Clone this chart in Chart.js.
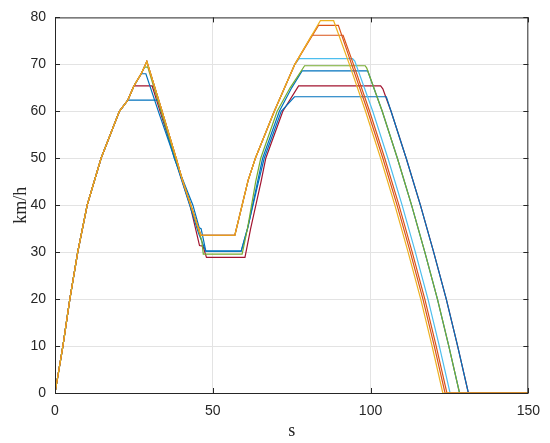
<!DOCTYPE html>
<html>
<head>
<meta charset="utf-8">
<style>
body { margin: 0; background: #fff; }
#wrap { width: 550px; height: 443px; }
</style>
<script src="https://cdn.jsdelivr.net/npm/chart.js@4.4.1/dist/chart.umd.min.js"></script>
<script type="text/javascript">
// distance (s) and speed (km/h), one pair of arrays per run
var blue1S = [0, 2.5, 4.7, 7.2, 10.2, 14.6, 20.4, 23.1, 32.6, 34.5, 37.8, 43.7, 45.7, 46.3, 47.8, 59.0, 61.0, 64.5, 66.3, 71.7, 75.9, 105.0, 106.5, 111.3, 115.8, 120.0, 124.0, 127.6, 131.0, 150];
var blue1V = [0, 10, 20, 30, 40, 50, 60, 62.4, 62.4, 58, 50, 40, 35.2, 35, 30.2, 30.2, 35, 45, 50, 60, 63.1, 63.1, 60, 50, 40, 30, 20, 10, 0, 0];

var redS = [0, 2.5, 4.7, 7.2, 10.2, 14.6, 20.4, 23.1, 25.0, 30.8, 34.0, 38.0, 42.8, 45.8, 46.9, 48.0, 60.2, 62.0, 65.3, 66.8, 72.2, 77.2, 103.2, 103.9, 104.8, 106.5, 111.3, 115.8, 120.0, 124.0, 127.6, 131.0, 150];
var redV = [0, 10, 20, 30, 40, 50, 60, 62.4, 65.4, 65.4, 58.5, 50, 40, 31.4, 31.3, 28.9, 28.9, 35, 45, 50, 60, 65.4, 65.4, 64.8, 63.1, 60, 50, 40, 30, 20, 10, 0, 0];

var blue2S = [0, 2.5, 4.7, 7.2, 10.2, 14.6, 20.4, 23.1, 25.0, 27.4, 28.8, 33.0, 37.9, 42.7, 45.5, 47.8, 59.0, 61.2, 64.2, 65.8, 71.1, 75.0, 78.3, 99.1, 103.7, 108.5, 113.0, 117.2, 121.2, 124.8, 128.2, 150];
var blue2V = [0, 10, 20, 30, 40, 50, 60, 62.4, 65.4, 68.0, 68.0, 59.5, 50, 40, 34, 30.2, 30.2, 35.5, 45, 50, 60, 65, 68.6, 68.6, 60, 50, 40, 30, 20, 10, 0, 0];

var greenS = [0, 2.5, 4.7, 7.2, 10.2, 14.6, 20.4, 23.1, 25.0, 27.4, 28.4, 29.4, 33.4, 38.2, 43.0, 46.5, 47.0, 59.3, 61.0, 63.6, 65.2, 70.4, 74.5, 79.1, 98.3, 98.8, 103.7, 108.5, 113.0, 117.2, 121.2, 124.8, 128.2, 150];
var greenV = [0, 10, 20, 30, 40, 50, 60, 62.4, 65.4, 68.1, 69.4, 69.4, 60.5, 50, 40, 32.5, 29.6, 29.6, 35, 45, 50, 60, 65, 69.7, 69.7, 69.2, 60, 50, 40, 30, 20, 10, 0, 0];

// the four fastest runs share the yellow path until their second plateau
var lblueS = [0, 2.5, 4.7, 7.2, 10.2, 14.6, 20.4, 23.1, 25.0, 27.4, 29.1, 33.5, 38.4, 40.4, 46.2, 57.0, 61.2, 63.5, 69.5, 76.0, 77.4, 94.3, 95.0, 100.7, 105.5, 110.0, 114.2, 118.2, 121.8, 125.2, 150];
var lblueV = [0, 10, 20, 30, 40, 50, 60, 62.4, 65.4, 68.1, 70.6, 61, 50, 45.3, 33.6, 33.6, 45.3, 50, 60, 70, 71.2, 71.2, 70.7, 60, 50, 40, 30, 20, 10, 0, 0];

var orange2S = [0, 2.5, 4.7, 7.2, 10.2, 14.6, 20.4, 23.1, 25.0, 27.4, 29.1, 33.5, 38.4, 40.4, 46.2, 57.0, 61.2, 63.5, 69.5, 76.0, 81.4, 91.3, 94.6, 99.7, 104.5, 109.0, 113.2, 117.2, 120.8, 124.2, 150];
var orange2V = [0, 10, 20, 30, 40, 50, 60, 62.4, 65.4, 68.1, 70.6, 61, 50, 45.3, 33.6, 33.6, 45.3, 50, 60, 70, 76.2, 76.2, 70, 60, 50, 40, 30, 20, 10, 0, 0];

var orange1S = [0, 2.5, 4.7, 7.2, 10.2, 14.6, 20.4, 23.1, 25.0, 27.4, 29.1, 33.5, 38.4, 40.4, 46.2, 57.0, 61.2, 63.5, 69.5, 76.0, 83.5, 89.8, 94.0, 99.1, 103.9, 108.4, 112.6, 116.6, 120.2, 123.6, 150];
var orange1V = [0, 10, 20, 30, 40, 50, 60, 62.4, 65.4, 68.1, 70.6, 61, 50, 45.3, 33.6, 33.6, 45.3, 50, 60, 70, 78.3, 78.3, 70, 60, 50, 40, 30, 20, 10, 0, 0];

var yellowS = [0, 2.5, 4.7, 7.2, 10.2, 14.6, 20.4, 23.1, 25.0, 27.4, 29.1, 33.5, 38.4, 40.4, 46.2, 57.0, 61.2, 63.5, 69.5, 76.0, 84.1, 88.3, 93.3, 98.4, 103.2, 107.7, 111.9, 115.9, 119.5, 122.9, 150];
var yellowV = [0, 10, 20, 30, 40, 50, 60, 62.4, 65.4, 68.1, 70.6, 61, 50, 45.3, 33.6, 33.6, 45.3, 50, 60, 70, 79.3, 79.3, 70, 60, 50, 40, 30, 20, 10, 0, 0];

var xTicks = [0, 50, 100, 150];
var yTicks = [0, 10, 20, 30, 40, 50, 60, 70, 80];

function pts(s, v) {
	var out = [];
	for (var i = 0; i < s.length; i++) out.push({ x: s[i], y: v[i] });
	return out;
}

// chart.js paints dataset 0 last, so the list below goes top line first
function line(s, v, color) {
	return {
		data: pts(s, v),
		borderColor: color,
		borderWidth: 1.2,
		pointRadius: 0,
		tension: 0,
		fill: false
	};
}

// box round the plot and the small inward tick marks, matlab style
var boxPlugin = {
	id: 'box',
	afterDraw: function (chart) {
		var a = chart.chartArea;
		var ctx = chart.ctx;
		var xs = chart.scales.x, ys = chart.scales.y;
		ctx.save();
		ctx.strokeStyle = '#262626';
		ctx.lineWidth = 1;
		ctx.strokeRect(a.left + 0.5, a.top + 0.5, a.right - a.left - 1, a.bottom - a.top);
		ctx.beginPath();
		xTicks.forEach(function (t) {
			var px = Math.round(xs.getPixelForValue(t)) + 0.5;
			ctx.moveTo(px, a.bottom); ctx.lineTo(px, a.bottom - 5);
			ctx.moveTo(px, a.top); ctx.lineTo(px, a.top + 5);
		});
		yTicks.forEach(function (t) {
			var py = Math.round(ys.getPixelForValue(t)) + 0.5;
			ctx.moveTo(a.left, py); ctx.lineTo(a.left + 5, py);
			ctx.moveTo(a.right, py); ctx.lineTo(a.right - 5, py);
		});
		ctx.stroke();
		ctx.restore();
	}
};

document.addEventListener("DOMContentLoaded", function () {
	var ctx = document.getElementById('myChart');
	var gridColor = function (c) {
		var v = c.tick ? c.tick.value : null;
		return (v === null || c.index === 0 || c.index === c.chart.scales[c.scale.id].ticks.length - 1) ? 'rgba(0,0,0,0)' : '#e3e3e3';
	};

	new Chart(ctx, {
		type: 'line',
		data: {
			datasets: [
				line(yellowS, yellowV, '#EDB120'),
				line(orange1S, orange1V, '#D95319'),
				line(orange2S, orange2V, '#D95319'),
				line(lblueS, lblueV, '#4DBEEE'),
				line(greenS, greenV, '#77AC30'),
				line(blue2S, blue2V, '#0072BD'),
				line(blue1S, blue1V, '#0072BD'),
				line(redS, redV, '#A2142F')
			]
		},
		options: {
			responsive: false,
			animation: false,
			layout: { padding: { top: 17, right: 19, left: 0, bottom: 0 } },
			plugins: {
				legend: { display: false },
				tooltip: { enabled: false }
			},
			scales: {
				x: {
					type: 'linear',
					min: 0,
					max: 150,
					afterFit: function (s) { s.height = 50; },
					afterBuildTicks: function (s) { s.ticks = xTicks.map(function (v) { return { value: v }; }); },
					ticks: { color: '#262626', padding: 10, font: { family: 'Liberation Sans', size: 14 } },
					grid: { color: gridColor, drawTicks: false, lineWidth: 1 },
					border: { display: false },
					title: { display: true, text: 's', color: '#262626', padding: { top: 0, bottom: 1 }, font: { family: 'Liberation Serif', size: 18 } }
				},
				y: {
					min: 0,
					max: 80,
					afterFit: function (s) { s.width = 55; },
					afterBuildTicks: function (s) { s.ticks = yTicks.map(function (v) { return { value: v }; }); },
					ticks: { color: '#262626', padding: 9, font: { family: 'Liberation Sans', size: 14 } },
					grid: { color: gridColor, drawTicks: false, lineWidth: 1 },
					border: { display: false },
					title: { display: true, text: 'km/h', color: '#262626', padding: { top: 10, bottom: 0 }, font: { family: 'Liberation Serif', size: 18 } }
				}
			}
		},
		plugins: [boxPlugin]
	});
});
</script>
</head>
<body>
<div id="wrap">
	<canvas id="myChart" width="550" height="443"></canvas>
</div>
</body>
</html>
